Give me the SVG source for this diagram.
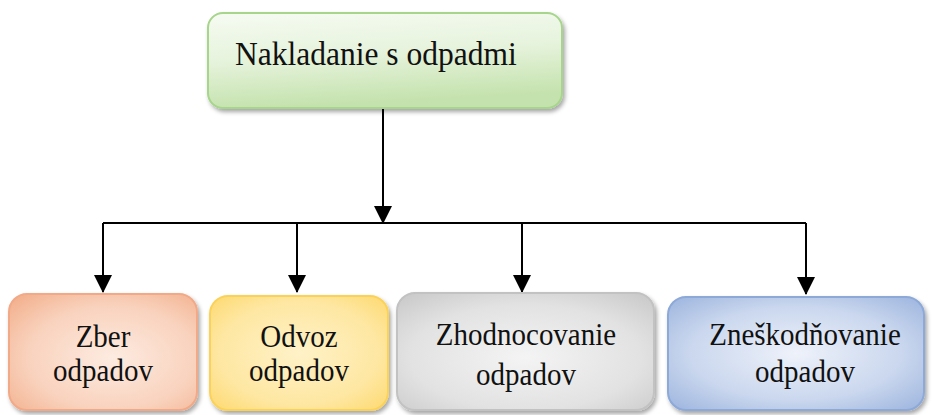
<svg xmlns="http://www.w3.org/2000/svg" width="933" height="415" viewBox="0 0 933 415">
<style>
.t{font-family:"Liberation Serif","Times New Roman",serif;fill:#111;}
.b{font-size:29px;text-anchor:middle;}
.c{stroke:#000;stroke-width:2;fill:none;}
</style>
<defs>
<marker id="ah" markerUnits="userSpaceOnUse" markerWidth="18" markerHeight="18" viewBox="0 0 18 18" refX="17" refY="9" orient="auto">
<path d="M0,0 L18,9 L0,18 Z" fill="#000"/>
</marker>
<filter id="sh" x="-10%" y="-10%" width="125%" height="130%">
<feDropShadow dx="2" dy="3" stdDeviation="2" flood-color="#000" flood-opacity="0.35"/>
</filter>
<linearGradient id="gG" x1="0" y1="0" x2="0.2" y2="1">
<stop offset="0" stop-color="#f6fbf2"/>
<stop offset="0.5" stop-color="#e6f3dc"/>
<stop offset="1" stop-color="#c4e2ad"/>
</linearGradient>
<radialGradient id="gO" cx="0.55" cy="0.55" r="0.75">
<stop offset="0" stop-color="#fdebe1"/>
<stop offset="0.6" stop-color="#f9d2bd"/>
<stop offset="1" stop-color="#f2ae8a"/>
</radialGradient>
<radialGradient id="gY" cx="0.5" cy="0.5" r="0.75">
<stop offset="0" stop-color="#fff2c8"/>
<stop offset="0.6" stop-color="#fee7a2"/>
<stop offset="1" stop-color="#fdd665"/>
</radialGradient>
<radialGradient id="gS" cx="0.5" cy="0.55" r="0.75">
<stop offset="0" stop-color="#f4f4f4"/>
<stop offset="0.6" stop-color="#e2e2e2"/>
<stop offset="1" stop-color="#c6c6c6"/>
</radialGradient>
<radialGradient id="gB" cx="0.5" cy="0.5" r="0.75">
<stop offset="0" stop-color="#eef2fa"/>
<stop offset="0.55" stop-color="#cad7ee"/>
<stop offset="1" stop-color="#94aedb"/>
</radialGradient>
</defs>

<g id="connectors">
<line class="c" x1="383" y1="108" x2="383" y2="223" marker-end="url(#ah)"/>
<polyline class="c" points="103,223 806,223"/>
<path class="c" d="M103,223 L103,292" marker-end="url(#ah)"/>
<path class="c" d="M297,223 L297,292" marker-end="url(#ah)"/>
<path class="c" d="M522,223 L522,292" marker-end="url(#ah)"/>
<path class="c" d="M806,223 L806,294" marker-end="url(#ah)"/>
</g>

<g id="n0">
<rect x="208" y="13" width="354" height="95" rx="15" fill="url(#gG)" stroke="#a6d58b" stroke-width="2" filter="url(#sh)"/>
<text class="t" font-size="31.5" transform="translate(235,65) scale(1,1.1)">Nakladanie s odpadmi</text>
</g>

<g id="n1">
<rect x="9" y="294" width="188" height="116" rx="18" fill="url(#gO)" stroke="#f2a987" stroke-width="2" filter="url(#sh)"/>
<text class="t b" transform="translate(103,347) scale(1,1.12)">Zber</text>
<text class="t b" transform="translate(103,381) scale(1,1.12)">odpadov</text>
</g>

<g id="n2">
<rect x="210" y="296" width="178" height="114" rx="18" fill="url(#gY)" stroke="#fbd259" stroke-width="2" filter="url(#sh)"/>
<text class="t b" transform="translate(299,347) scale(1,1.12)">Odvoz</text>
<text class="t b" transform="translate(299,381) scale(1,1.12)">odpadov</text>
</g>

<g id="n3">
<rect x="397" y="293" width="257" height="117" rx="18" fill="url(#gS)" stroke="#c2c2c2" stroke-width="2" filter="url(#sh)"/>
<text class="t b" transform="translate(526,345) scale(1,1.12)">Zhodnocovanie</text>
<text class="t b" transform="translate(526,385) scale(1,1.12)">odpadov</text>
</g>

<g id="n4">
<rect x="668" y="297" width="256" height="113" rx="18" fill="url(#gB)" stroke="#8da9d8" stroke-width="2" filter="url(#sh)"/>
<text class="t b" transform="translate(805,345) scale(1,1.12)">Zneškodňovanie</text>
<text class="t b" transform="translate(805,382) scale(1,1.12)">odpadov</text>
</g>
</svg>
